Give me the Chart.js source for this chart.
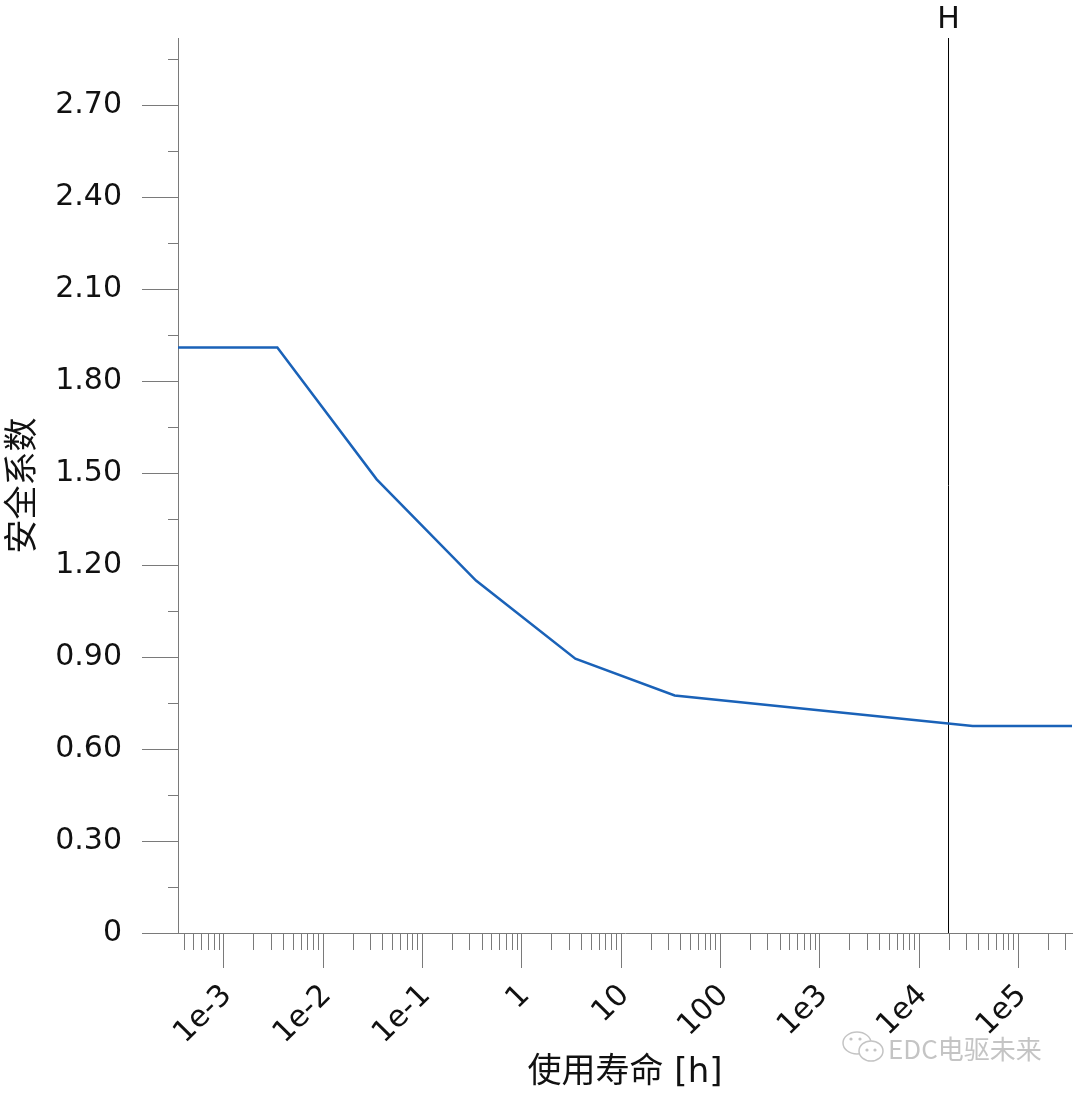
<!DOCTYPE html>
<html>
<head>
<meta charset="utf-8">
<script src="https://cdn.jsdelivr.net/npm/chart.js@4"></script>
<style>
  html, body { margin: 0; padding: 0; background: #fff; }
  #wrap { width: 1080px; height: 1098px; position: relative; }
</style>
</head>
<body>
<div id="wrap"><canvas id="lifeChart"></canvas></div>
<script>
// life curve: safety factor over service life (log hours)
const lifeHours = [3.5e-4, 3.5e-3, 0.035, 0.35, 3.5, 35, 3.5e4, 3.5e5];
const safetyFactor = [1.91, 1.91, 1.48, 1.15, 0.895, 0.775, 0.675, 0.675];

// marker "H" (required life)
const markerH = 20000;

// axis ranges and tick labels
const xMin = 3.5e-4, xMax = 3.5e5;
const yMin = 0, yMax = 2.92, yStep = 0.15;
const xTickValues = [1e-3, 1e-2, 1e-1, 1, 10, 100, 1e3, 1e4, 1e5];
const xTickLabels = ['1e-3', '1e-2', '1e-1', '1', '10', '100', '1e3', '1e4', '1e5'];
const yTickValues = [0, 0.3, 0.6, 0.9, 1.2, 1.5, 1.8, 2.1, 2.4, 2.7];
const yTickLabels = ['0', '0.30', '0.60', '0.90', '1.20', '1.50', '1.80', '2.10', '2.40', '2.70'];

const FONT = "'DejaVu Sans', 'Noto Sans CJK SC', sans-serif";
const AXIS_GREY = '#7a7a7a';

function findLabel(values, labels, v) {
  for (let i = 0; i < values.length; i++) {
    if (Math.abs(v - values[i]) <= Math.abs(values[i]) * 1e-6 + 1e-9) return labels[i];
  }
  return '';
}

// no extra room for the (mostly empty) edge labels
function noEdgePadding(scale) {
  scale.paddingTop = 0;
  scale.paddingBottom = 0;
  scale.paddingLeft = 0;
  scale.paddingRight = 0;
}

// tick marks: long for labelled ticks, short for the others
const tickMarks = {
  id: 'tickMarks',
  afterDraw(chart) {
    const ctx = chart.ctx;
    const xs = chart.scales.x, ys = chart.scales.y;
    ctx.save();
    ctx.strokeStyle = AXIS_GREY;
    ctx.lineWidth = 1;
    ctx.beginPath();
    xs.ticks.forEach(t => {
      const px = Math.round(xs.getPixelForValue(t.value)) + 0.5;
      const len = findLabel(xTickValues, xTickLabels, t.value) ? 35 : 17;
      ctx.moveTo(px, xs.top);
      ctx.lineTo(px, xs.top + len);
    });
    ys.ticks.forEach(t => {
      const py = Math.round(ys.getPixelForValue(t.value)) + 0.5;
      const len = findLabel(yTickValues, yTickLabels, t.value) ? 36 : 10;
      ctx.moveTo(ys.right - len, py);
      ctx.lineTo(ys.right, py);
    });
    ctx.stroke();

    // "H" label over the marker line
    const hx = xs.getPixelForValue(markerH);
    ctx.fillStyle = '#111';
    ctx.font = '30px ' + FONT;
    ctx.textAlign = 'center';
    ctx.textBaseline = 'middle';
    ctx.fillText('H', hx, 20);

    // watermark
    ctx.strokeStyle = '#c4c4c4';
    ctx.lineWidth = 1.5;
    ctx.beginPath();
    ctx.ellipse(857, 1043, 14, 11, 0, 0, Math.PI * 2);
    ctx.stroke();
    ctx.fillStyle = '#fff';
    ctx.beginPath();
    ctx.ellipse(871, 1051, 12, 10, 0, 0, Math.PI * 2);
    ctx.fill();
    ctx.stroke();
    ctx.fillStyle = '#c4c4c4';
    [[851, 1039], [860, 1039], [867, 1050], [875, 1050]].forEach(p => {
      ctx.beginPath();
      ctx.arc(p[0], p[1], 1.6, 0, Math.PI * 2);
      ctx.fill();
    });
    ctx.font = "26px 'Noto Sans CJK SC', sans-serif";
    ctx.textAlign = 'left';
    ctx.fillText('EDC电驱未来', 888, 1049);
    ctx.restore();
  }
};

new Chart(document.getElementById('lifeChart'), {
  type: 'line',
  data: {
    datasets: [
      {
        label: '安全系数',
        data: lifeHours.map((h, i) => ({ x: h, y: safetyFactor[i] })),
        borderColor: '#1a62b8',
        borderWidth: 2.5,
        pointRadius: 0,
        tension: 0,
        fill: false
      },
      {
        label: 'H',
        data: [{ x: markerH, y: yMin }, { x: markerH, y: yMax }],
        borderColor: '#000',
        borderWidth: 1,
        pointRadius: 0
      }
    ]
  },
  options: {
    responsive: true,
    maintainAspectRatio: false,
    animation: false,
    layout: { padding: { top: 38, right: 8, left: 0, bottom: 0 } },
    plugins: {
      legend: { display: false },
      tooltip: { enabled: false }
    },
    scales: {
      x: {
        type: 'logarithmic',
        min: xMin,
        max: xMax,
        afterBuildTicks(scale) {
          const ticks = [];
          for (let e = -4; e <= 5; e++) {
            for (let m = 1; m <= 9; m++) {
              const v = m * Math.pow(10, e);
              if (v >= xMin && v <= xMax) ticks.push({ value: v });
            }
          }
          scale.ticks = ticks;
        },
        afterFit(scale) {
          scale.height = 165;
          noEdgePadding(scale);
        },
        grid: { drawOnChartArea: false, drawTicks: false },
        border: { color: AXIS_GREY, width: 1 },
        ticks: {
          autoSkip: false,
          minRotation: 45,
          maxRotation: 45,
          padding: 45,
          labelOffset: 4,
          color: '#111',
          font: { family: FONT, size: 30 },
          callback: (v) => findLabel(xTickValues, xTickLabels, v)
        },
        title: {
          display: true,
          text: '使用寿命 [h]',
          color: '#111',
          font: { family: FONT, size: 34 },
          padding: { top: 0, bottom: 4 }
        }
      },
      y: {
        type: 'linear',
        min: yMin,
        max: yMax,
        afterFit(scale) {
          scale.width = 178;
          noEdgePadding(scale);
        },
        grid: { drawOnChartArea: false, drawTicks: false },
        border: { color: AXIS_GREY, width: 1 },
        ticks: {
          stepSize: yStep,
          includeBounds: false,
          autoSkip: false,
          padding: 56,
          color: '#111',
          font: { family: FONT, size: 30 },
          callback: (v) => findLabel(yTickValues, yTickLabels, v)
        },
        title: {
          display: true,
          text: '安全系数',
          color: '#111',
          font: { family: FONT, size: 34 },
          padding: { top: 4, bottom: 0 }
        }
      }
    }
  },
  plugins: [tickMarks]
});
</script>
</body>
</html>
